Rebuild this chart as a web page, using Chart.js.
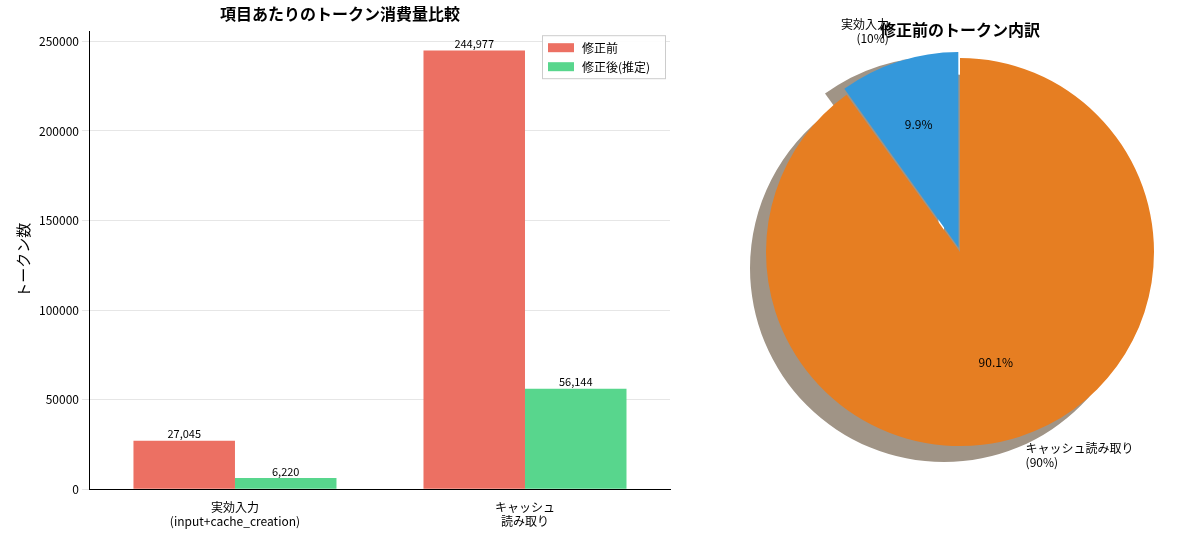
<!DOCTYPE html>
<html><head><meta charset="utf-8">
<script src="https://cdn.jsdelivr.net/npm/chart.js@4"></script>
<style>
body{margin:0;background:#fff;font-family:"Noto Sans CJK JP",sans-serif}
#bar{position:absolute;left:10px;top:0}
#pie{position:absolute;left:720px;top:0}
</style></head><body>
<canvas id="bar" width="670" height="536"></canvas>
<canvas id="pie" width="480" height="536"></canvas>
<script>
const categories = [["実効入力","(input+cache_creation)"],["キャッシュ","読み取り"]];
const before_values = [27045, 244977];
const after_values = [6220, 56144];
const pie_labels = ["キャッシュ読み取り\n(90%)", "実効入力\n(10%)"];
const pie_values = [244977, 27045];
const y_ticks = [0, 50000, 100000, 150000, 200000, 250000];

const font_jp = "Noto Sans CJK JP";
Chart.defaults.font.family = font_jp;
Chart.defaults.color = "#000";

const bar_labels_plugin = {
    id: "bar_labels",
    afterDatasetsDraw(chart) {
        const ctx = chart.ctx;
        ctx.save();
        ctx.font = "11px " + font_jp;
        ctx.fillStyle = "#000";
        ctx.textAlign = "center";
        ctx.textBaseline = "bottom";
        chart.data.datasets.forEach((ds, i) => {
            chart.getDatasetMeta(i).data.forEach((bar, j) => {
                ctx.fillText(ds.data[j].toLocaleString("en-US"), bar.x, bar.y - 1);
            });
        });
        ctx.restore();
    }
};

const legend_box_plugin = {
    id: "legend_box",
    afterDraw(chart) {
        const ctx = chart.ctx, a = chart.chartArea;
        const x = a.right - 128, y = a.top + 4;
        ctx.save();
        ctx.fillStyle = "rgba(255,255,255,0.9)";
        ctx.strokeStyle = "#ccc";
        ctx.fillRect(x, y, 124, 44);
        ctx.strokeRect(x + 0.5, y + 0.5, 123, 43);
        ctx.font = "12px " + font_jp;
        ctx.textBaseline = "middle";
        chart.data.datasets.forEach((ds, i) => {
            ctx.fillStyle = ds.backgroundColor;
            ctx.fillRect(x + 6, y + 8 + i * 19, 26, 9);
            ctx.fillStyle = "#000";
            ctx.fillText(ds.label, x + 40, y + 13 + i * 19);
        });
        ctx.restore();
    }
};

new Chart(document.getElementById("bar"), {
    type: "bar",
    data: {
        labels: categories,
        datasets: [
            { label: "修正前", data: before_values, backgroundColor: "#ec7063" },
            { label: "修正後(推定)", data: after_values, backgroundColor: "#58d68d" }
        ]
    },
    options: {
        responsive: false, animation: false,
        layout: { padding: { top: 0, right: 10, bottom: 4 } },
        datasets: { bar: { categoryPercentage: 0.7, barPercentage: 1 } },
        scales: {
            x: {
                grid: { display: false },
                border: { color: "#000" },
                ticks: { font: { size: 12 }, maxRotation: 0, autoSkip: false }
            },
            y: {
                min: 0, max: 255700,
                afterBuildTicks: axis => { axis.ticks = y_ticks.map(v => ({ value: v })); },
                ticks: { font: { size: 12 }, callback: v => String(v) },
                grid: { color: "#e6e6e6" },
                border: { color: "#000" },
                title: { display: true, text: "トークン数", font: { size: 15 } }
            }
        },
        plugins: {
            title: { display: true, text: "項目あたりのトークン消費量比較", font: { size: 16, weight: "bold" }, padding: { top: 4, bottom: 8 } },
            legend: { display: false },
            tooltip: { enabled: false }
        }
    },
    plugins: [bar_labels_plugin, legend_box_plugin]
});

const pie_extras_plugin = {
    id: "pie_extras",
    beforeDatasetsDraw(chart) {
        const ctx = chart.ctx;
        ctx.save();
        ctx.fillStyle = "#a09486";
        chart.getDatasetMeta(0).data.forEach(arc => {
            const mid = (arc.startAngle + arc.endAngle) / 2;
            const off = arc.options.offset || 0;
            const cx = arc.x + Math.cos(mid) * off - 16, cy = arc.y + Math.sin(mid) * off + 16;
            ctx.beginPath();
            ctx.moveTo(cx, cy);
            ctx.arc(cx, cy, arc.outerRadius, arc.startAngle, arc.endAngle);
            ctx.closePath();
            ctx.fill();
        });
        ctx.restore();
    },
    afterDatasetsDraw(chart) {
        const ctx = chart.ctx;
        const total = pie_values.reduce((a, b) => a + b, 0);
        ctx.save();
        ctx.font = "12px " + font_jp;
        ctx.fillStyle = "#000";
        ctx.textBaseline = "middle";
        chart.getDatasetMeta(0).data.forEach((arc, i) => {
            const mid = (arc.startAngle + arc.endAngle) / 2;
            const off = arc.options.offset || 0;
            const cx = arc.x + Math.cos(mid) * off, cy = arc.y + Math.sin(mid) * off;
            const r = arc.outerRadius;
            ctx.textAlign = "center";
            ctx.fillText((pie_values[i] / total * 100).toFixed(1) + "%", cx + Math.cos(mid) * r * 0.6, cy + Math.sin(mid) * r * 0.6);
            const lx = cx + Math.cos(mid) * r * 1.1, ly = cy + Math.sin(mid) * r * 1.1;
            const lines = pie_labels[i].split("\n");
            ctx.textAlign = Math.cos(mid) < 0 ? "right" : "left";
            lines.forEach((t, k) => ctx.fillText(t, lx, ly + (k - (lines.length - 1) / 2) * 14));
        });
        ctx.restore();
    }
};

new Chart(document.getElementById("pie"), {
    type: "pie",
    data: {
        labels: pie_labels,
        datasets: [{
            data: pie_values,
            backgroundColor: ["#e67e22", "#3498db"],
            borderWidth: 0,
            offset: [0, 18]
        }]
    },
    options: {
        responsive: false, animation: false,
        layout: { padding: { top: 16, bottom: 75, left: 37, right: 37 } },
        plugins: {
            legend: { display: false },
            tooltip: { enabled: false },
            title: { display: true, text: "修正前のトークン内訳", font: { size: 16, weight: "bold" }, padding: { top: 4, bottom: 4 } }
        }
    },
    plugins: [pie_extras_plugin]
});
</script>
</body></html>
